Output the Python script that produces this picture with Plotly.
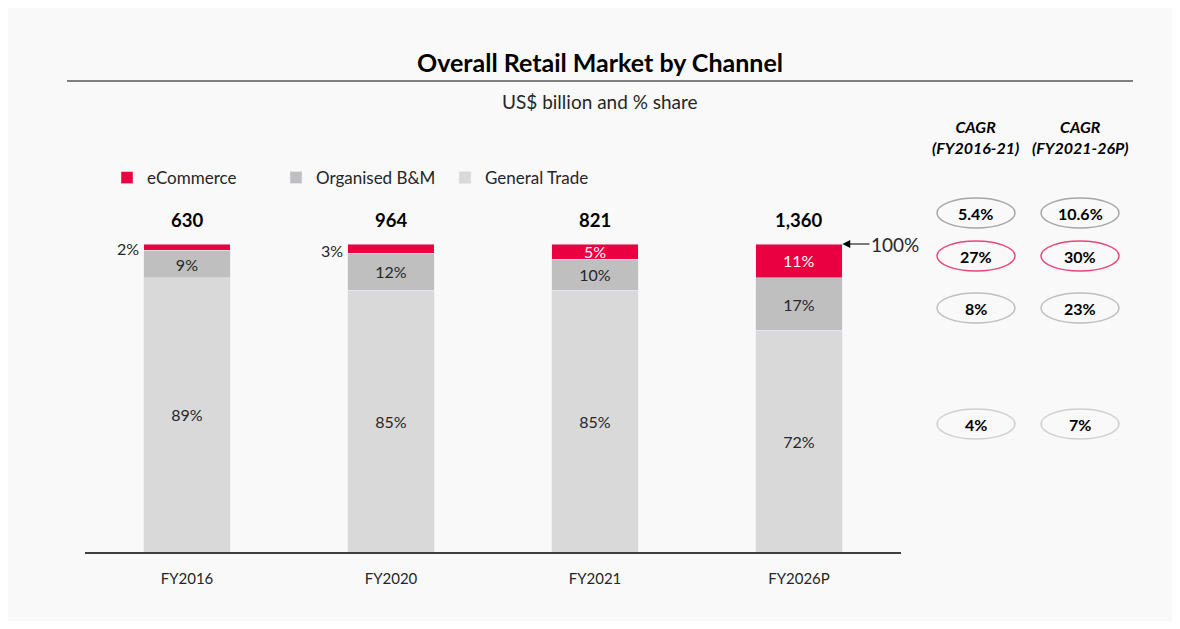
import plotly.graph_objects as go

categories = ["FY2016", "FY2020", "FY2021", "FY2026P"]
totals = ["630", "964", "821", "1,360"]
general_trade = [89, 85, 85, 72]
organised = [9, 12, 10, 17]
ecommerce = [2, 3, 5, 11]
cagr_rows = ["Total", "eCommerce", "Organised B&M", "General Trade"]
cagr_16_21 = ["5.4%", "27%", "8%", "4%"]
cagr_21_26 = ["10.6%", "30%", "23%", "7%"]

FONT = "Lato"
C_ECOM = "#EA0041"
C_ORG = "#BFBFBF"
C_GT = "#D9D9D9"
TXT = "#262626"

OFF = 8  # page body margin
# plot area in reference screen pixels
L, R, T, B = 85, 901, 244, 552
W, H = R - L, B - T
def px(x):
    return (x - L) / W
def py(y):
    return (B - y) / H

BAR_W = 0.426

fig = go.Figure()
fig.add_trace(go.Bar(x=categories, y=general_trade, name="General Trade", marker_color=C_GT,
                     width=BAR_W, text=[f"{v}%" for v in general_trade], textposition="inside",
                     insidetextanchor="middle", textangle=0,
                     textfont=dict(family=FONT, size=16, color=TXT)))
fig.add_trace(go.Bar(x=categories, y=organised, name="Organised B&M", marker_color=C_ORG,
                     width=BAR_W, text=[f"{v}%" for v in organised], textposition="inside",
                     insidetextanchor="middle", textangle=0,
                     textfont=dict(family=FONT, size=16, color=TXT)))
fig.add_trace(go.Bar(x=categories, y=ecommerce, name="eCommerce", marker_color=C_ECOM,
                     width=BAR_W, textposition="none"))

annotations = []
for i, cat in enumerate(categories):
    top = general_trade[i] + organised[i] + ecommerce[i]
    annotations.append(dict(x=cat, y=top, xref="x", yref="y", text=f"<b>{totals[i]}</b>",
                            showarrow=False, yanchor="bottom", xanchor="center", yshift=11,
                            font=dict(family=FONT, size=18.5, color="#000")))
    mid = top - ecommerce[i] / 2
    if ecommerce[i] < 4:
        annotations.append(dict(x=i - BAR_W / 2, y=mid - 0.5, xref="x", yref="y",
                                text=f"{ecommerce[i]}%", showarrow=False, xanchor="right",
                                yanchor="middle", xshift=-3,
                                font=dict(family=FONT, size=16, color=TXT)))
    else:
        annotations.append(dict(x=cat, y=mid, xref="x", yref="y",
                                text=f"{ecommerce[i]}%", showarrow=False, xanchor="center",
                                yanchor="middle",
                                font=dict(family=FONT, size=16, color="white")))

# 100% arrow
annotations.append(dict(x=3 + BAR_W / 2, y=100, xref="x", yref="y", text="100%",
                        showarrow=True, ax=27, ay=0, xanchor="left", yanchor="middle",
                        arrowhead=2, arrowsize=1.3, arrowwidth=1.2, arrowcolor="#000",
                        font=dict(family=FONT, size=19, color=TXT)))

# titles
annotations.append(dict(x=px(600), y=py(62), xref="paper", yref="paper",
                        text="<b>Overall Retail Market by Channel</b>", showarrow=False,
                        xanchor="center", yanchor="middle",
                        font=dict(family=FONT, size=25, color="#000")))
annotations.append(dict(x=px(600), y=py(101), xref="paper", yref="paper",
                        text="US$ billion and % share", showarrow=False,
                        xanchor="center", yanchor="middle",
                        font=dict(family=FONT, size=19, color=TXT)))

cols = [(976, "(FY2016-21)", cagr_16_21), (1080, "(FY2021-26P)", cagr_21_26)]
row_y = [213, 256, 308, 424]
row_col = ["#A6A6A6", "#E8457A", "#BFBFBF", "#D0D0D0"]
shapes = [
    dict(type="rect", xref="paper", yref="paper", x0=px(0), x1=px(1172), y0=py(0), y1=py(621),
         fillcolor="#F9F9F9", line=dict(width=0), layer="below"),
    dict(type="line", xref="paper", yref="paper", x0=px(67), x1=px(1133), y0=py(81), y1=py(81),
         line=dict(color="#7F7F7F", width=2)),
]
for cx, period, vals in cols:
    annotations.append(dict(x=px(cx), y=py(137), xref="paper", yref="paper",
                            text=f"<b><i>CAGR<br>{period}</i></b>", showarrow=False,
                            xanchor="center", yanchor="middle",
                            font=dict(family=FONT, size=16, color="#000")))
    for j, v in enumerate(vals):
        shapes.append(dict(type="circle", xref="paper", yref="paper",
                           x0=px(cx - 39), x1=px(cx + 39), y0=py(row_y[j] + 15), y1=py(row_y[j] - 15),
                           line=dict(color=row_col[j], width=1.5), fillcolor="rgba(0,0,0,0)"))
        annotations.append(dict(x=px(cx), y=py(row_y[j]), xref="paper", yref="paper",
                                text=f"<b>{v}</b>", showarrow=False,
                                xanchor="center", yanchor="middle",
                                font=dict(family=FONT, size=16, color="#000")))

fig.update_layout(
    width=1180, height=629,
    margin=dict(l=L - OFF, r=1180 - R + OFF, t=T - OFF, b=629 - B + OFF, pad=0),
    paper_bgcolor="white", plot_bgcolor="rgba(0,0,0,0)",
    barmode="stack",
    showlegend=True,
    legend=dict(orientation="h", x=px(107), y=py(178), xanchor="left", yanchor="middle",
                traceorder="reversed", entrywidth=124, entrywidthmode="pixels",
                font=dict(family=FONT, size=17, color=TXT), bgcolor="rgba(0,0,0,0)"),
    xaxis=dict(range=[-0.5, 3.5], showline=True, linecolor="#404040", linewidth=2,
               showgrid=False, zeroline=False, ticks="outside", ticklen=12,
               tickcolor="rgba(0,0,0,0)",
               tickfont=dict(family=FONT, size=15, color=TXT), fixedrange=True),
    yaxis=dict(range=[0, 100], visible=False, fixedrange=True),
    annotations=annotations, shapes=shapes,
    font=dict(family=FONT),
)
fig.update_traces(cliponaxis=False)

fig.write_html("out.html")
